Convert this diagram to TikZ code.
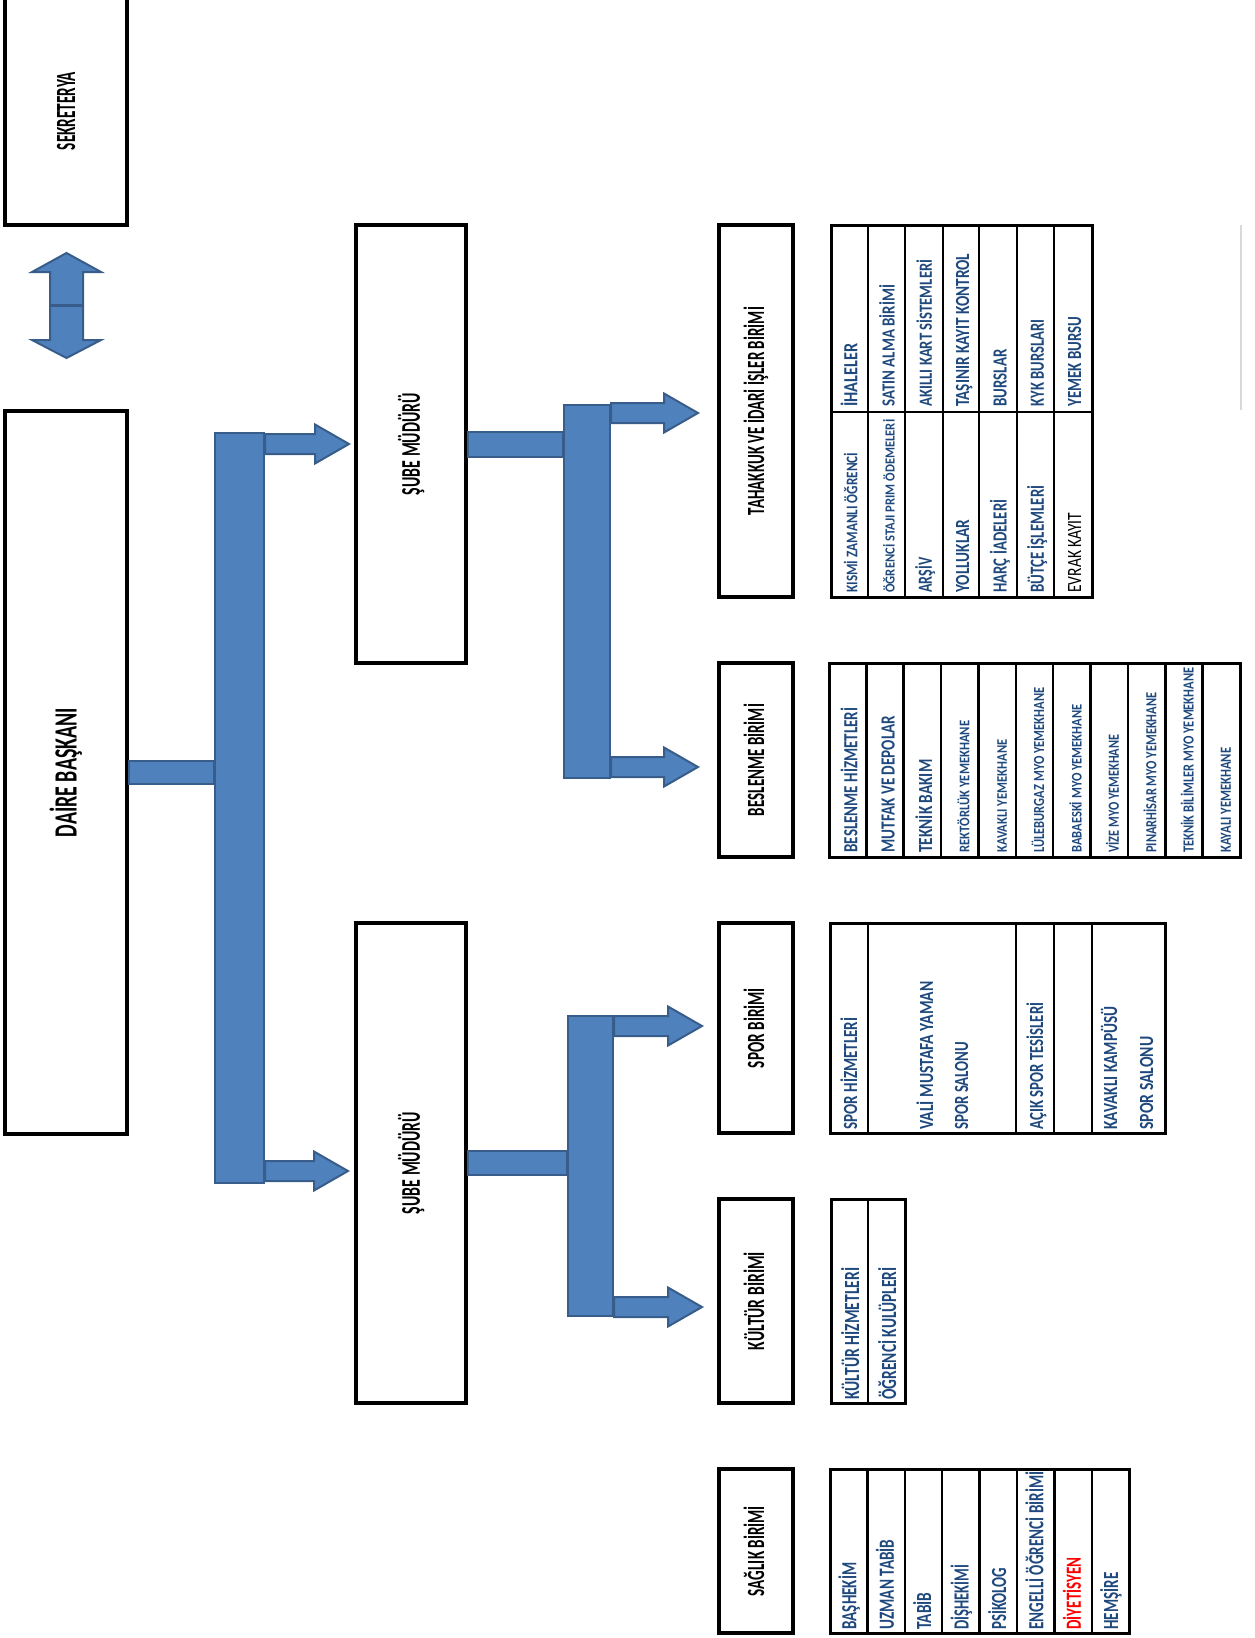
\documentclass[tikz,border=0pt]{standalone}
\usepackage{fontspec}
\setmainfont{Carlito}
\usepackage{graphicx}
\usetikzlibrary{calc}
\newdimen\pxu \pxu=0.5pt
\definecolor{barfill}{HTML}{4F81BD}
\definecolor{barline}{HTML}{385D8A}
\definecolor{itemblue}{HTML}{1F497D}
% squeeze a text to a given length and cap height
\newcommand{\squeeze}[3]{\resizebox{#1\pxu}{#2\pxu}{\smash{#3}\vphantom{H}}}
\newcommand{\vtitle}[3]{\rotatebox{90}{\squeeze{#1}{#2}{#3}}}
% block arrow from #1 to its tip #2
\newcommand{\barrow}[2]{%
  \path[bar] ($#1+(0,-10)$) -- ($#2+(-34,-10)$) -- ($#2+(-34,-19.5)$) -- #2
    -- ($#2+(-34,19.5)$) -- ($#2+(-34,10)$) -- ($#1+(0,10)$) -- cycle;}
\tikzset{
  unitbox/.style = {draw, line width=4\pxu, inner sep=0pt, font=\bfseries},
  bar/.style = {fill=barfill, draw=barline, line width=2\pxu},
  busbar/.style = {bar, inner sep=0pt},
  cell/.style = {line width=3\pxu},
  cellin/.style = {line width=2.5\pxu},
  item/.style = {rotate=90, anchor=base west, inner sep=0pt, text=itemblue, font=\bfseries}
}

\begin{document}
\begin{tikzpicture}[x=0.5pt,y=-0.5pt]
  \useasboundingbox (0,0) rectangle (1254,1638);
  % left column
  \node[unitbox, minimum width=122\pxu, minimum height=228\pxu] (sek) at (66,111) {\vtitle{78}{18}{SEKRETERYA}};
  \node[unitbox, minimum width=122\pxu, minimum height=723\pxu] (dai) at (66,772.5) {\vtitle{129}{21}{DAİRE BAŞKANI}};
  \path[bar] (66.5,253) -- (101,272) -- (83,272) -- (83,340) -- (101,340) -- (66.5,358)
    -- (32,340) -- (50,340) -- (50,272) -- (32,272) -- cycle;
  \draw[barline, line width=3\pxu] (50,305) -- (83,305);
  % sube mudurleri
  \node[unitbox, minimum width=110\pxu, minimum height=438\pxu] (sube1) at (411,444) {\vtitle{102}{17.5}{ŞUBE MÜDÜRÜ}};
  \node[unitbox, minimum width=110\pxu, minimum height=480\pxu] (sube2) at (411,1163) {\vtitle{102}{17.5}{ŞUBE MÜDÜRÜ}};
  % birimler
  \node[unitbox, minimum width=74\pxu, minimum height=372\pxu] (tah) at (756,411) {\vtitle{208}{16}{TAHAKKUK VE İDARİ İŞLER BİRİMİ}};
  \node[unitbox, minimum width=74\pxu, minimum height=194\pxu] (bes) at (756,760) {\vtitle{112}{16}{BESLENME BİRİMİ}};
  \node[unitbox, minimum width=74\pxu, minimum height=210\pxu] (spor) at (756,1028) {\vtitle{80}{16}{SPOR BİRİMİ}};
  \node[unitbox, minimum width=74\pxu, minimum height=204\pxu] (kul) at (756,1301) {\vtitle{98}{16}{KÜLTÜR BİRİMİ}};
  \node[unitbox, minimum width=74\pxu, minimum height=164\pxu] (sag) at (756,1551) {\vtitle{90}{16}{SAĞLIK BİRİMİ}};
  % bus bars and arrows
  \node[busbar, minimum width=49\pxu, minimum height=750\pxu] (bus1) at (239.5,808) {};
  \node[busbar, minimum width=46\pxu, minimum height=373\pxu] (bus2) at (587,591.5) {};
  \node[busbar, minimum width=45\pxu, minimum height=300\pxu] (bus3) at (590.5,1166) {};
  \path[bar] ($(dai.east)+(0,-11.5)$) rectangle ($(bus1.west |- dai.east)+(0,11.5)$);
  \path[bar] ($(sube1.east)+(0,-12.5)$) rectangle ($(bus2.west |- sube1.east)+(0,12.5)$);
  \path[bar] ($(sube2.east)+(0,-12)$) rectangle ($(bus3.west |- sube2.east)+(0,12)$);
  \coordinate (t1) at ($(sube1.west)+(-5,0)$);
  \coordinate (t2) at ($(sube2.west)+(-6,8)$);
  \coordinate (t3) at ($(tah.west)+(-19,2)$);
  \coordinate (t4) at ($(bes.west)+(-19,7)$);
  \coordinate (t5) at ($(spor.west)+(-15,-2)$);
  \coordinate (t6) at ($(kul.west)+(-15,6)$);
  \barrow{(bus1.east |- t1)}{(t1)}
  \barrow{(bus1.east |- t2)}{(t2)}
  \barrow{(bus2.east |- t3)}{(t3)}
  \barrow{(bus2.east |- t4)}{(t4)}
  \barrow{(bus3.east |- t5)}{(t5)}
  \barrow{(bus3.east |- t6)}{(t6)}
  % tahakkuk table
  \draw[cell] (831,225) rectangle (1092,597);
  \foreach \x in {868,905,943,979,1017,1054} \draw[cellin] (\x,225) -- (\x,597);
  \draw[cellin] (831,412) -- (1092,412);
  \foreach \T/\L/\H [count=\i] in {İHALELER/63/13, SATIN ALMA BİRİMİ/122/12, AKILLI KART SİSTEMLERİ/147/12,
      TAŞINIR KAYIT KONTROL/153/13, BURSLAR/57/13, KYK BURSLARI/87/13, YEMEK BURSU/90/13}
    \node[item] (taha-\i) at ({820+37.3*\i},407) {\squeeze{\L}{\H}{\T}};
  \foreach \T/\L/\H [count=\i] in {KISMİ ZAMANLI ÖĞRENCİ/140/10.5, ÖĞRENCİ STAJI PRIM ÖDEMELERİ/173/9,
      ARŞİV/35/13, YOLLUKLAR/73/13, HARÇ İADELERİ/93/13, BÜTÇE İŞLEMLERİ/107/13}
    \node[item] (tahb-\i) at ({820+37.3*\i},593) {\squeeze{\L}{\H}{\T}};
  \node[item, text=black, font=\mdseries] (tahb-7) at (1081,593) {\squeeze{80}{13}{EVRAK KAYIT}};
  % beslenme table
  \draw[cell] (829,663) rectangle (1240,857);
  \foreach \k in {1,...,10} \draw[cellin] ({829+37.36*\k},663) -- ({829+37.36*\k},857);
  \foreach \T/\L/\H [count=\i] in {BESLENME HİZMETLERİ/145/13, MUTFAK VE DEPOLAR/137/13, TEKNİK BAKIM/93/13,
      REKTÖRLÜK YEMEKHANE/132/9.5, KAVAKLI YEMEKHANE/113/9.5, LÜLEBURGAZ MYO YEMEKHANE/165/10,
      BABAESKİ MYO YEMEKHANE/148/9.5, VİZE MYO YEMEKHANE/118/10, PINARHİSAR MYO YEMEKHANE/160/10,
      TEKNİK BİLİMLER MYO YEMEKHANE/185/10, KAYALI YEMEKHANE/105/10}
    \node[item] (bes-\i) at ({820+37.36*\i},853) {\squeeze{\L}{\H}{\T}};
  % spor table
  \draw[cell] (830,923) rectangle (1165,1133);
  \foreach \x in {868,1016,1054,1092} \draw[cellin] (\x,923) -- (\x,1133);
  \foreach \x/\T/\L [count=\i] in {857/SPOR HİZMETLERİ/112, 933/VALİ MUSTAFA YAMAN/148, 968/SPOR SALONU/88,
      1043/AÇIK SPOR TESİSLERİ/127, 1117/KAVAKLI KAMPÜSÜ/123, 1153/SPOR SALONU/93}
    \node[item] (spor-\i) at (\x,1130) {\squeeze{\L}{13}{\T}};
  % kultur table
  \draw[cell] (831,1199) rectangle (905,1403);
  \draw[cellin] (868,1199) -- (868,1403);
  \node[item] (kul-1) at (859,1400) {\squeeze{132}{14}{KÜLTÜR HİZMETLERİ}};
  \node[item] (kul-2) at (896,1400) {\squeeze{132}{14}{ÖĞRENCİ KULÜPLERİ}};
  % saglik table
  \draw[cell] (830,1469) rectangle (1129,1633);
  \foreach \k in {1,...,7} \draw[cellin] ({830+37.4*\k},1469) -- ({830+37.4*\k},1633);
  \foreach \T/\L [count=\i] in {BAŞHEKİM/67, UZMAN TABİB/90, TABİB/37, DİŞHEKİMİ/65, PSİKOLOG/62,
      ENGELLİ ÖĞRENCİ BİRİMİ/158, {\color{red}DİYETİSYEN}/72, HEMŞİRE/57}
    \node[item] (sag-\i) at ({819+37.4*\i},1630) {\squeeze{\L}{14}{\T}};
  % faint edge line
  \draw[black!15, line width=1.5\pxu] (1241,225) -- (1241,410);
\end{tikzpicture}
\end{document}
